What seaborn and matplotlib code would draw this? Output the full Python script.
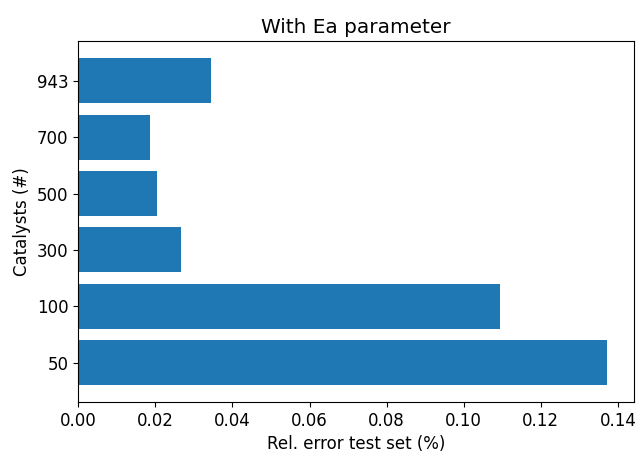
import pandas as pd
import matplotlib
matplotlib.use('Agg')
import matplotlib.pyplot as plt
import seaborn as sns

# values
catalysts = ['943', '700', '500', '300', '100', '50']
rel_error = [0.0344, 0.0185, 0.0205, 0.0266, 0.1094, 0.1371]

df = pd.DataFrame({'catalysts': catalysts, 'rel_error': rel_error})

plt.rcParams['font.size'] = 12

fig, ax = plt.subplots(figsize=(6.38, 4.53), dpi=100)
sns.barplot(x='rel_error', y='catalysts', data=df, order=catalysts,
            color='#1f77b4', saturation=1, width=0.8, orient='h', ax=ax)
ax.set_title('With Ea parameter')
ax.set_xlabel('Rel. error test set (%)')
ax.set_ylabel('Catalysts (#)')
ax.set_xlim(0, 0.1441)
ax.set_xticks([0.0, 0.02, 0.04, 0.06, 0.08, 0.10, 0.12, 0.14])
ax.set_xticklabels(['0.00', '0.02', '0.04', '0.06', '0.08', '0.10', '0.12', '0.14'])
ax.set_ylim(5.7, -0.7)
plt.subplots_adjust(left=0.1227, right=0.9933, top=0.9084, bottom=0.1126)
plt.savefig('out.png', dpi=100)
plt.close()
